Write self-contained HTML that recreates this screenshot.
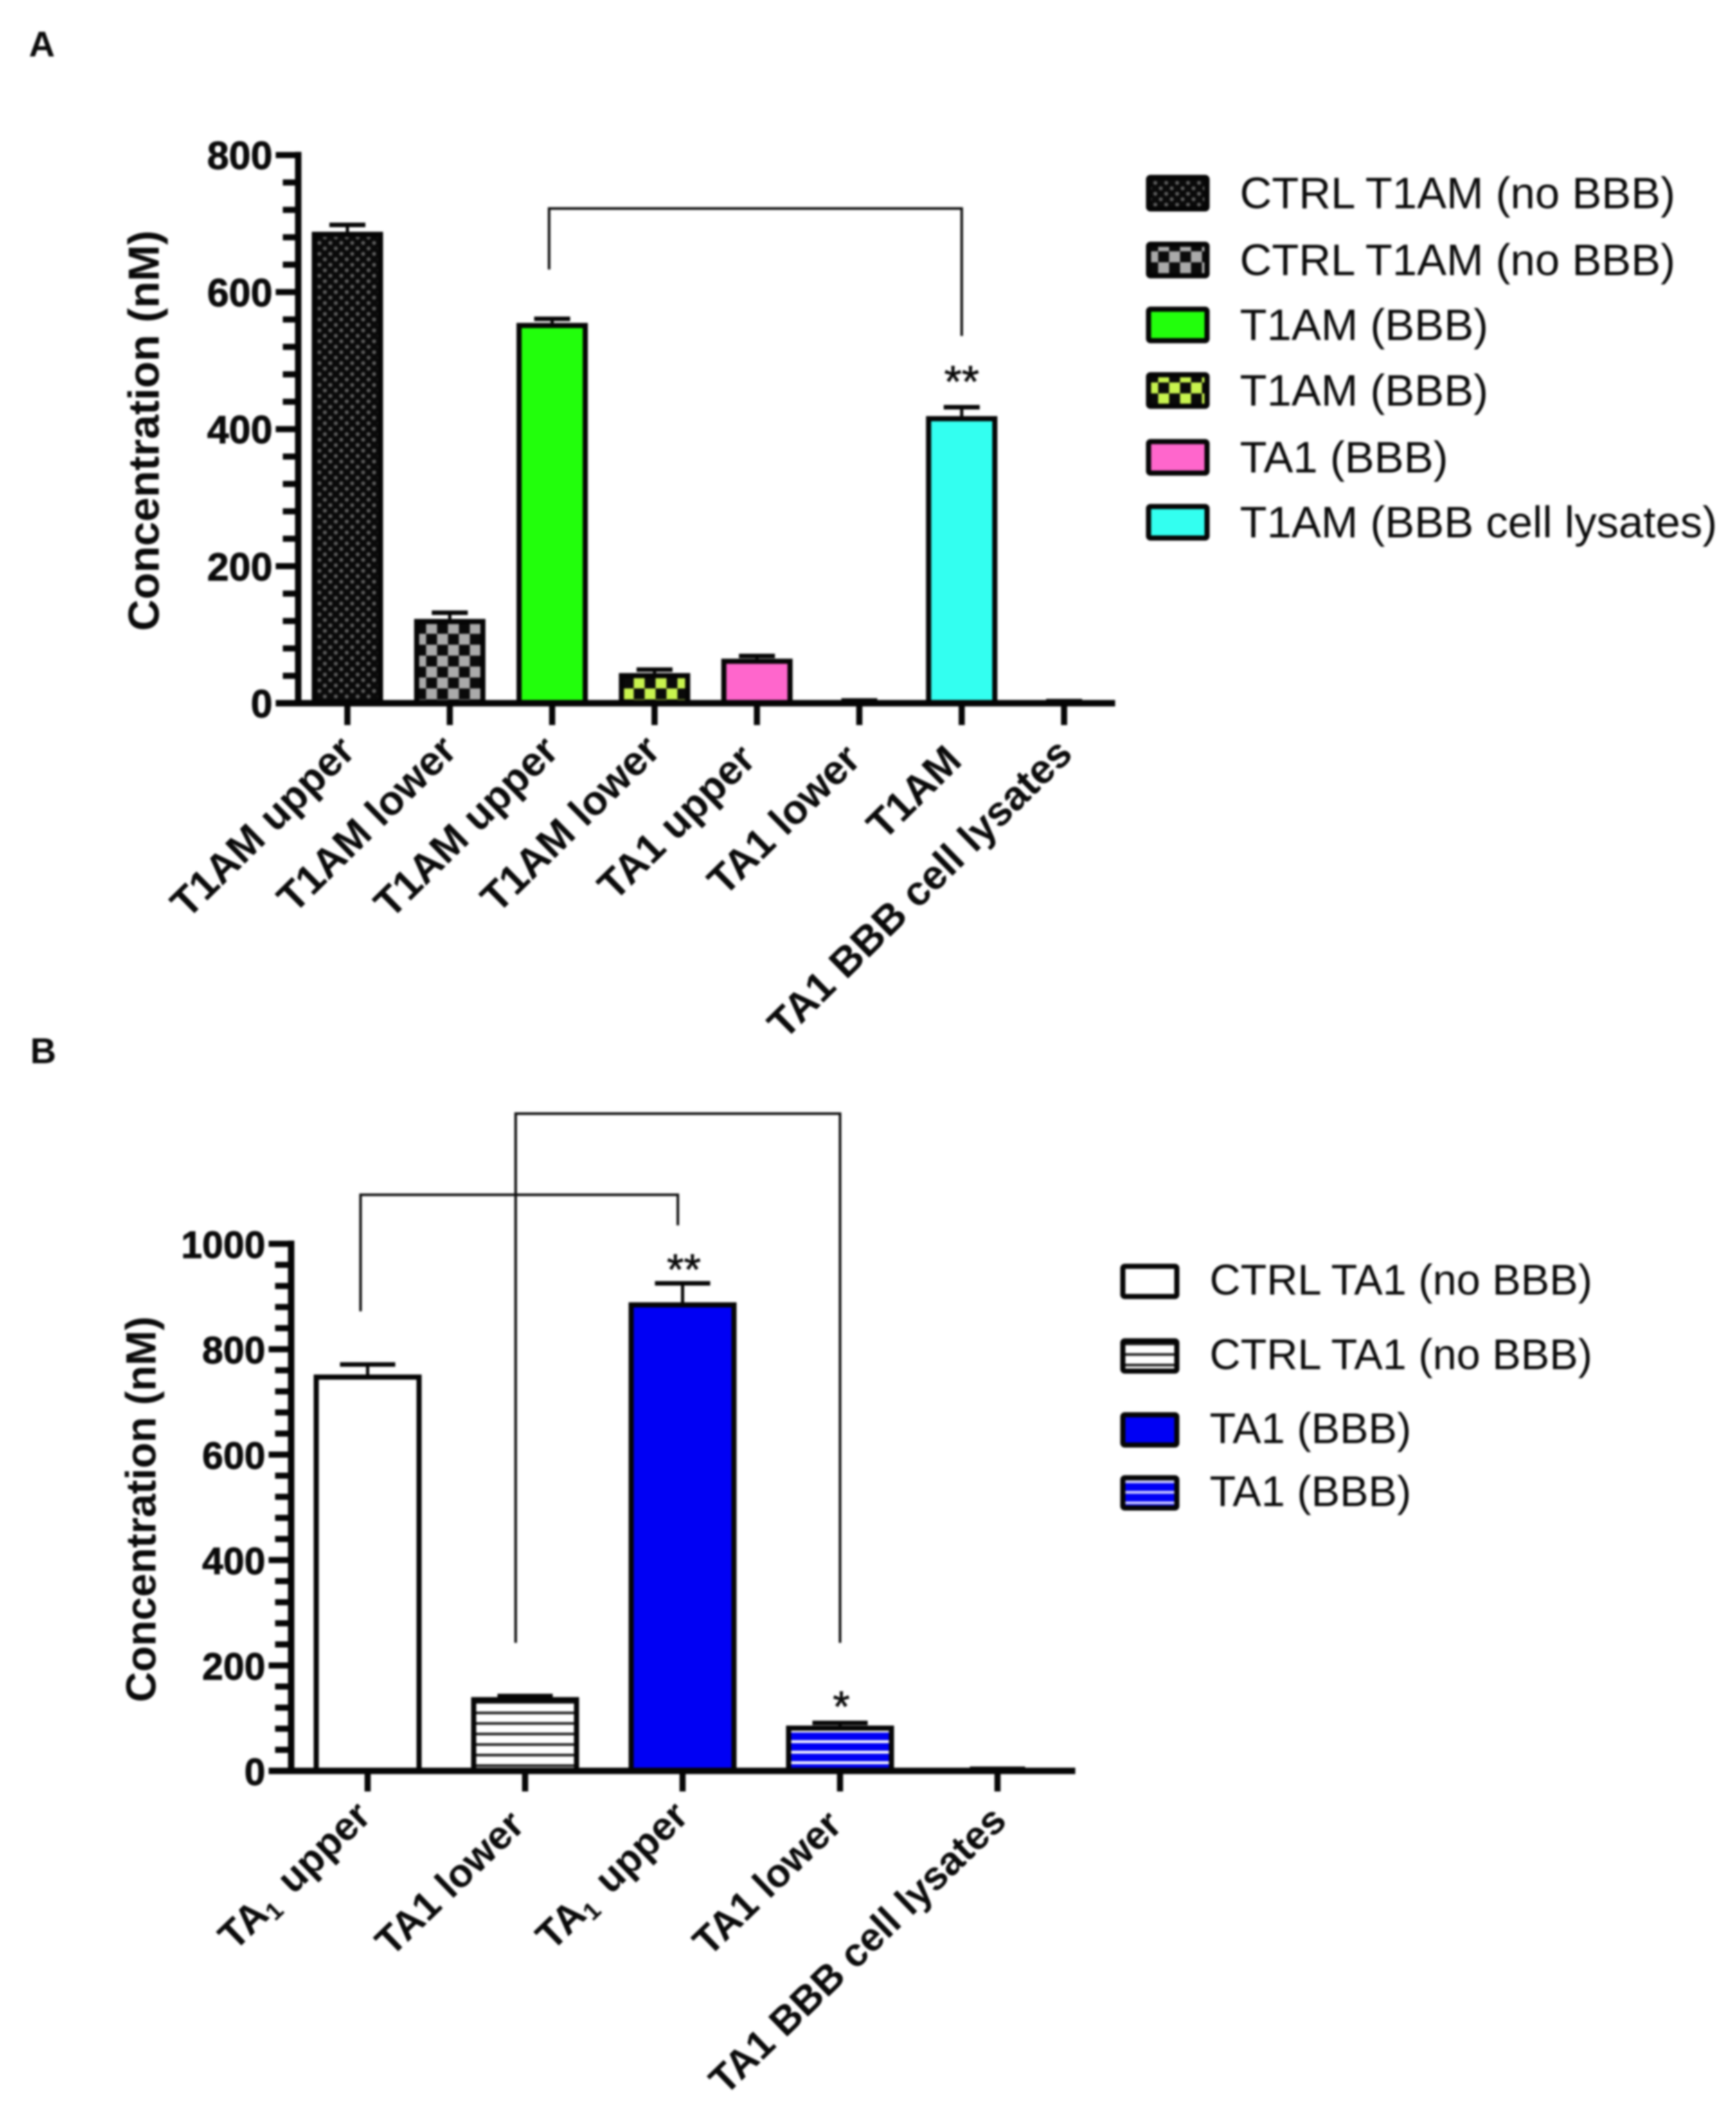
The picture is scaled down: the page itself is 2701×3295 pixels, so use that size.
<!DOCTYPE html>
<html lang="en">
<head>
<meta charset="utf-8">
<title>T1AM and TA1 concentration across BBB</title>
<style>
html,body{margin:0;padding:0;background:#fff;}
body{width:2701px;height:3295px;overflow:hidden;}
svg{display:block;filter:blur(1.6px);}
text{font-family:"Liberation Sans",sans-serif;fill:#0a0a0a;}
.bold{font-weight:bold;}
</style>
</head>
<body>
<svg id="figure" xmlns="http://www.w3.org/2000/svg" width="2701" height="3295" viewBox="0 0 2701 3295">
  <defs>
    <pattern id="dots" patternUnits="userSpaceOnUse" width="17" height="17">
      <rect width="17" height="17" fill="#0a0a0a"/>
      <circle cx="4" cy="4" r="3.1" fill="#5c5c5c"/>
      <circle cx="12.5" cy="12.5" r="3.1" fill="#5c5c5c"/>
    </pattern>
    <pattern id="checkGrey" patternUnits="userSpaceOnUse" width="34" height="34">
      <rect width="34" height="34" fill="#0a0a0a"/>
      <rect x="0" y="0" width="17" height="17" fill="#aaaaaa"/>
      <rect x="17" y="17" width="17" height="17" fill="#aaaaaa"/>
    </pattern>
    <pattern id="checkLime" patternUnits="userSpaceOnUse" width="34" height="34">
      <rect width="34" height="34" fill="#0a0a0a"/>
      <rect x="0" y="0" width="17" height="17" fill="#c8f34e"/>
      <rect x="17" y="17" width="17" height="17" fill="#c8f34e"/>
    </pattern>
    <pattern id="hatchBlack" patternUnits="userSpaceOnUse" width="40" height="16.4">
      <rect width="40" height="16.4" fill="#ffffff"/>
      <rect y="6" width="40" height="4" fill="#1c1c1c"/>
    </pattern>
    <pattern id="hatchBlue" patternUnits="userSpaceOnUse" width="40" height="16.4">
      <rect width="40" height="16.4" fill="#0000f4"/>
      <rect y="1.3" width="40" height="4.4" fill="#ffffff"/>
    </pattern>
    <pattern id="hatchBlueLegend" patternUnits="userSpaceOnUse" width="40" height="16.4">
      <rect width="40" height="16.4" fill="#0000f4"/>
      <rect y="7" width="40" height="4.4" fill="#ccccff"/>
    </pattern>
  </defs>
  <text class="bold" x="45" y="88" font-size="56">A</text>
  <text class="bold" x="47" y="1654" font-size="56">B</text>
  <g id="chartA"></g>
  <g id="chartB"></g>
</svg>
<script>
// ---------- Panel A data ----------
const categoriesA = ['T1AM upper','T1AM lower','T1AM upper','T1AM lower','TA1 upper','TA1 lower','T1AM','TA1 BBB cell lysates'];
const meansA = [688, 123, 555, 44, 65, 3, 419, 2];
const errorsA = [10, 9, 6, 5, 4, 1, 13, 1];
const fillsA = ['url(#dots)','url(#checkGrey)','#22ff0c','url(#checkLime)','#ff66cc','#ffffff','#33fff0','#ffffff'];
const yTicksA = [0, 200, 400, 600, 800];
const legendLabelsA = ['CTRL T1AM (no BBB)','CTRL T1AM (no BBB)','T1AM (BBB)','T1AM (BBB)','TA1 (BBB)','T1AM (BBB cell lysates)'];
const legendFillsA = ['url(#dots)','url(#checkGrey)','#22ff0c','url(#checkLime)','#ff66cc','#33fff0'];
const legendRowsA = [272, 376, 477, 579, 683, 784];
const labelNudgeXA = [12, 11, 10, 9, -2, 2, 0, 13];
const labelNudgeYA = [0, -1, 0, -1, 13, 13, 15, 4];
const bracketFromA = [1.97];
const bracketToA = [6];
const bracketTopA = [722];
const bracketFromEndA = [633];
const bracketToEndA = [536];
const starTextA = ['**'];
const starIndexA = [6];
const starValueA = [447];

// ---------- Panel B data ----------
const categoriesB = ['TA_1 upper','TA1 lower','TA_1 upper','TA1 lower','TA1 BBB cell lysates'];
const meansB = [752, 140, 889, 86, 3];
const errorsB = [19, 2, 36, 5, 1];
const fillsB = ['#ffffff','url(#hatchBlack)','#0000f4','url(#hatchBlue)','#ffffff'];
const yTicksB = [0, 200, 400, 600, 800, 1000];
const legendLabelsB = ['CTRL TA1 (no BBB)','CTRL TA1 (no BBB)','TA1 (BBB)','TA1 (BBB)'];
const legendFillsB = ['#ffffff','url(#hatchBlack)','#0000f4','url(#hatchBlueLegend)'];
const legendRowsB = [1966, 2082, 2197, 2295];
const labelNudgeXB = [5, -1, 9, 3, 14];
const labelNudgeYB = [0, 14, 0, 14, 7];
const bracketFromB = [-0.045, 0.94];
const bracketToB = [1.97, 3];
const bracketTopB = [1093, 1247];
const bracketFromEndB = [872, 243];
const bracketToEndB = [1035, 243];
const starTextB = ['**', '*'];
const starIndexB = [2, 3];
const starValueB = [923, 94];

const SVG_NS = 'http://www.w3.org/2000/svg';
function add(parent, tag, attrs, name) {
  const el = document.createElementNS(SVG_NS, tag);
  for (const k in attrs) el.setAttribute(k, attrs[k]);
  
  
  parent.appendChild(el);
  return el;
}
function rule(parent, x1, y1, x2, y2, w, name) {
  return add(parent, 'line', {x1, y1, x2, y2, stroke: '#050505', 'stroke-width': w}, name);
}

function drawPanel(root, cfg) {
  const y = v => cfg.y0 - v * cfg.pxPerUnit;
  const x = i => cfg.x0 + i * cfg.step;
  const maxV = cfg.yTicks[cfg.yTicks.length - 1];

  // bars and error bars
  cfg.means.forEach((m, i) => {
    const half = cfg.barW / 2;
    const top = Math.min(y(m) + 4, cfg.y0 - 1);
    add(root, 'rect', {
      x: x(i) - half, y: top, width: cfg.barW, height: Math.max(cfg.y0 - top, 1),
      fill: cfg.fills[i], stroke: '#050505', 'stroke-width': 8
    }, 'bar-' + (i + 1));
    const yTop = y(m + cfg.errors[i]);
    rule(root, x(i), yTop, x(i), y(m) + 3, 5, 'error-stem-' + (i + 1));
    rule(root, x(i) - cfg.capW / 2, yTop, x(i) + cfg.capW / 2, yTop, 7, 'error-cap-' + (i + 1));
  });

  // axes
  rule(root, cfg.axisX, y(maxV) - 5, cfg.axisX, cfg.y0 + 5, 10, 'y-axis-line');
  rule(root, cfg.majorStart, cfg.y0, cfg.axisEnd, cfg.y0, 10, 'x-axis-line');
  for (let v = 0; v <= maxV; v += 40) {
    const major = v % 200 === 0;
    rule(root, major ? cfg.majorStart : cfg.minorStart, y(v), cfg.axisX, y(v), 9.5,
      major ? 'y-major-tick-' + v : 'y-minor-tick-' + v);
  }
  cfg.yTicks.forEach(v => {
    const t = add(root, 'text', {x: cfg.majorStart - 5, y: y(v) + 22, 'text-anchor': 'end', 'font-size': cfg.tickFont, 'font-weight': 'bold', stroke: '#0a0a0a', 'stroke-width': 0.9}, 'y-tick-label-' + v);
    t.textContent = String(v);
  });

  const title = add(root, 'text', {
    transform: `translate(${cfg.titleX},${cfg.titleY}) rotate(-90)`,
    'text-anchor': 'middle', 'font-size': cfg.titleFont, 'font-weight': 'bold'
  }, 'y-axis-title');
  title.textContent = 'Concentration (nM)';

  // category ticks and labels
  cfg.categories.forEach((c, i) => {
    rule(root, x(i), cfg.y0, x(i), cfg.tickEnd, 9.5, 'x-tick-' + (i + 1));
    const t = add(root, 'text', {
      transform: `translate(${x(i) + cfg.nudgeX[i] + 3},${cfg.labelY + cfg.nudgeY[i]}) rotate(${cfg.labelAngle})`,
      'text-anchor': 'end', 'font-size': cfg.labelFont, 'font-weight': 'bold'
    }, 'x-tick-label-' + (i + 1));
    const parts = c.split('_');
    if (parts.length === 2) {
      const a = document.createElementNS(SVG_NS, 'tspan');
      a.textContent = parts[0];
      t.appendChild(a);
      const s = document.createElementNS(SVG_NS, 'tspan');
      s.setAttribute('font-size', cfg.labelFont * 0.62);
      s.setAttribute('dy', 10);
      s.textContent = parts[1].charAt(0);
      t.appendChild(s);
      const r = document.createElementNS(SVG_NS, 'tspan');
      r.setAttribute('dy', -10);
      r.setAttribute('dx', 10);
      r.textContent = parts[1].slice(1);
      t.appendChild(r);
    } else {
      t.textContent = c;
    }
  });

  // significance brackets
  cfg.bracketFrom.forEach((b, i) => {
    const pts = [
      [x(b), y(cfg.bracketFromEnd[i])],
      [x(b), y(cfg.bracketTop[i])],
      [x(cfg.bracketTo[i]), y(cfg.bracketTop[i])],
      [x(cfg.bracketTo[i]), y(cfg.bracketToEnd[i])]
    ];
    add(root, 'polyline', {points: pts.map(p => p.join(',')).join(' '), fill: 'none', stroke: '#0c0c0c', 'stroke-width': 4}, 'significance-bracket-' + (i + 1));
  });
  cfg.starText.forEach((s, i) => {
    const t = add(root, 'text', {x: x(cfg.starIndex[i]) + cfg.starDx, y: y(cfg.starValue[i]), 'text-anchor': 'middle', 'font-size': cfg.starFont, stroke: '#0a0a0a', 'stroke-width': 0.8}, 'significance-stars-' + (i + 1));
    t.textContent = s;
  });

  // legend
  cfg.legendLabels.forEach((l, i) => {
    const top = cfg.legendRows[i];
    add(root, 'rect', {
      x: cfg.legendX + 4, y: top + 4, width: cfg.legendW - 8, height: cfg.legendH - 8, rx: 3,
      fill: cfg.legendFills[i], stroke: '#050505', 'stroke-width': 8
    }, 'legend-swatch-' + (i + 1));
    const t = add(root, 'text', {x: cfg.legendTextX, y: top + cfg.legendBase, 'font-size': cfg.legendFont}, 'legend-label-' + (i + 1));
    t.textContent = l;
  });
}

drawPanel(document.getElementById('chartA'), {
  y0: 1094, pxPerUnit: 1.066, x0: 540.5, step: 159.3, barW: 103, capW: 56,
  axisX: 464, majorStart: 429, minorStart: 440, axisEnd: 1735, tickEnd: 1128,
  categories: categoriesA, means: meansA, errors: errorsA, fills: fillsA, yTicks: yTicksA,
  tickFont: 61, titleFont: 68, titleX: 247, titleY: 670,
  labelFont: 64, labelY: 1172, labelAngle: -44.5, nudgeX: labelNudgeXA, nudgeY: labelNudgeYA,
  bracketFrom: bracketFromA, bracketTo: bracketToA, bracketTop: bracketTopA,
  bracketFromEnd: bracketFromEndA, bracketToEnd: bracketToEndA,
  starText: starTextA, starIndex: starIndexA, starValue: starValueA, starDx: 0, starFont: 70,
  legendLabels: legendLabelsA, legendFills: legendFillsA, legendRows: legendRowsA,
  legendX: 1783, legendW: 99, legendH: 57, legendTextX: 1929, legendBase: 52, legendFont: 68.9
});

drawPanel(document.getElementById('chartB'), {
  y0: 2755, pxPerUnit: 0.82, x0: 572, step: 245, barW: 160, capW: 86,
  axisX: 453, majorStart: 418, minorStart: 428, axisEnd: 1673, tickEnd: 2787,
  categories: categoriesB, means: meansB, errors: errorsB, fills: fillsB, yTicks: yTicksB,
  tickFont: 59, titleFont: 65.5, titleX: 242, titleY: 2348,
  labelFont: 62, labelY: 2829, labelAngle: -44, nudgeX: labelNudgeXB, nudgeY: labelNudgeYB,
  bracketFrom: bracketFromB, bracketTo: bracketToB, bracketTop: bracketTopB,
  bracketFromEnd: bracketFromEndB, bracketToEnd: bracketToEndB,
  starText: starTextB, starIndex: starIndexB, starValue: starValueB, starDx: 2, starFont: 68,
  legendLabels: legendLabelsB, legendFills: legendFillsB, legendRows: legendRowsB,
  legendX: 1743, legendW: 92, legendH: 55, legendTextX: 1882, legendBase: 48, legendFont: 66.7
});
</script>
</body>
</html>
